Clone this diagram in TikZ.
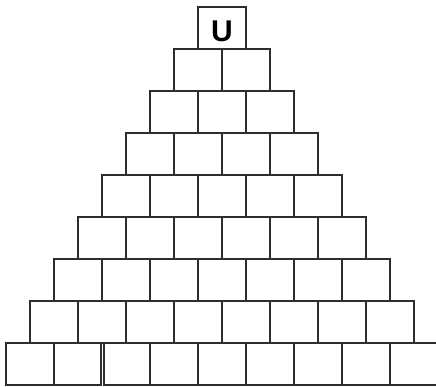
\documentclass[tikz,border=0pt]{standalone}
\usepackage{fontspec}
\setmainfont{Liberation Sans}
\usetikzlibrary{positioning}
\definecolor{edgegray}{RGB}{45,45,45}

\begin{document}
\begin{tikzpicture}[
  x=1pt, y=1pt,
  brick/.style={draw=edgegray, line width=1.3pt, minimum width=48pt, minimum height=42pt, inner sep=0pt, outer sep=0pt, anchor=north west},
  toplabel/.style={font=\bfseries\fontsize{30}{36}\selectfont, text height=26.6pt, text depth=0pt}
]
\useasboundingbox (0,0) rectangle (436,387);
% top brick
\node[brick, toplabel] (b-1-1) at (198,380) {U};
% rows 2 to 8
\foreach \r in {2,...,8} {
  \foreach \c in {1,...,\r} {
    \node[brick] (b-\r-\c) at ({222-24*\r+48*(\c-1)}, {380-42*(\r-1)}) {};
  }
}
% bottom row, with the small gap after the second brick
\node[brick] (b-9-1) at (6,44) {};
\node[brick, minimum width=47pt] (b-9-2) at (54,44) {};
\node[brick, minimum width=46pt] (b-9-3) at (104,44) {};
\foreach \c in {4,...,9} {
  \node[brick] (b-9-\c) at ({150+48*(\c-4)}, 44) {};
}
\end{tikzpicture}
\end{document}
